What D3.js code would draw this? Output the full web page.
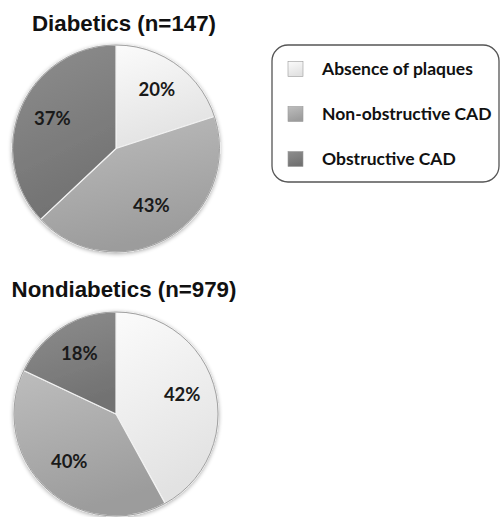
<!DOCTYPE html>
<html><head><meta charset="utf-8">
<script src="https://cdn.jsdelivr.net/npm/d3@7"></script>
<style>body{margin:0;background:#fff}svg{display:block}</style>
</head><body>
<script>
const categories = ["Absence of plaques", "Non-obstructive CAD", "Obstructive CAD"];
const groups = ["Diabetics (n=147)", "Nondiabetics (n=979)"];
const diabeticValues = [20, 43, 37];
const nondiabeticValues = [42, 40, 18];
const colorTop = ["#fbfbfb", "#bdbdbd", "#8e8e8e"];
const colorBottom = ["#e2e2e2", "#9c9c9c", "#727272"];

const W = 500, H = 517;
const svg = d3.select("body").append("svg").attr("width", W).attr("height", H);
const defs = svg.append("defs");

const f = defs.append("filter").attr("id", "sh").attr("x", "-20%").attr("y", "-20%").attr("width", "140%").attr("height", "140%");
f.append("feGaussianBlur").attr("in", "SourceAlpha").attr("stdDeviation", 2).attr("result", "b");
f.append("feOffset").attr("in", "b").attr("dx", 0).attr("dy", 1).attr("result", "o");
f.append("feComponentTransfer").attr("in", "o").attr("result", "o2")
  .append("feFuncA").attr("type", "linear").attr("slope", 0.35);
const fm = f.append("feMerge");
fm.append("feMergeNode").attr("in", "o2");
fm.append("feMergeNode").attr("in", "SourceGraphic");

categories.forEach((c, i) => {
  const g = defs.append("linearGradient").attr("id", "g" + i)
    .attr("x1", 0).attr("y1", 0).attr("x2", 0.3).attr("y2", 1);
  g.append("stop").attr("offset", "0%").attr("stop-color", colorTop[i]);
  g.append("stop").attr("offset", "100%").attr("stop-color", colorBottom[i]);
});

const color = d3.scaleOrdinal().domain(categories).range(categories.map((c, i) => `url(#g${i})`));

const pies = [
  {title: groups[0], values: diabeticValues, cx: 116, cy: 148.5, r: 103.5, ty: 31},
  {title: groups[1], values: nondiabeticValues, cx: 116, cy: 414, r: 102, ty: 297}
];

const pie = d3.pie().sort(null).value(d => d.v);

pies.forEach(p => {
  const data = categories.map((c, i) => ({c, v: p.values[i]}));
  const arcs = pie(data);
  const arc = d3.arc().innerRadius(0).outerRadius(p.r);
  const labelArc = d3.arc().innerRadius(p.r * 0.67).outerRadius(p.r * 0.67);
  const g = svg.append("g").attr("transform", `translate(${p.cx},${p.cy})`);
  const sg = g.append("g").attr("filter", "url(#sh)");
  sg.selectAll("path").data(arcs).enter().append("path")
    .attr("d", arc)
    .attr("fill", d => color(d.data.c))
    .attr("stroke", "#f2f2f2").attr("stroke-width", 1.2).attr("stroke-linejoin", "round");
  sg.append("circle").attr("r", p.r).attr("fill", "none").attr("stroke", "#8a8a8a").attr("stroke-width", 0.8);
  g.selectAll("text.lab").data(arcs).enter().append("text")
    .attr("class", "lab")
    .attr("transform", d => `translate(${labelArc.centroid(d)})`)
    .attr("text-anchor", "middle").attr("dy", "0.2em")
    .style("font-family", "Lato, 'Open Sans', sans-serif").style("font-weight", "bold")
    .style("font-size", "18.5px").attr("fill", "#1a1a1a")
    .text(d => d.data.v + "%");
  svg.append("text").attr("x", 124).attr("y", p.ty).attr("text-anchor", "middle")
    .style("font-family", "'Liberation Sans', Arial, sans-serif").style("font-weight", "bold")
    .style("font-size", "22.3px").attr("fill", "#111").text(p.title);
});

// legend
const lg = svg.append("g");
lg.append("rect").attr("x", 272).attr("y", 45).attr("width", 227).attr("height", 137)
  .attr("rx", 16).attr("fill", "#fff").attr("stroke", "#555").attr("stroke-width", 1.3);
const ly = d3.scalePoint().domain(categories).range([69, 159]);
const items = lg.selectAll("g.it").data(categories).enter().append("g").attr("class", "it")
  .attr("transform", d => `translate(288,${ly(d)})`);
items.append("rect").attr("x", 0).attr("y", -7.5).attr("width", 15).attr("height", 15)
  .attr("fill", d => color(d)).attr("stroke", "#999").attr("stroke-width", 0.6);
items.append("text").attr("x", 34).attr("dy", "0.35em")
  .style("font-family", "Lato, 'Open Sans', sans-serif").style("font-weight", "bold")
  .style("font-size", "17.5px").attr("fill", "#111").text(d => d);
</script>
</body></html>
